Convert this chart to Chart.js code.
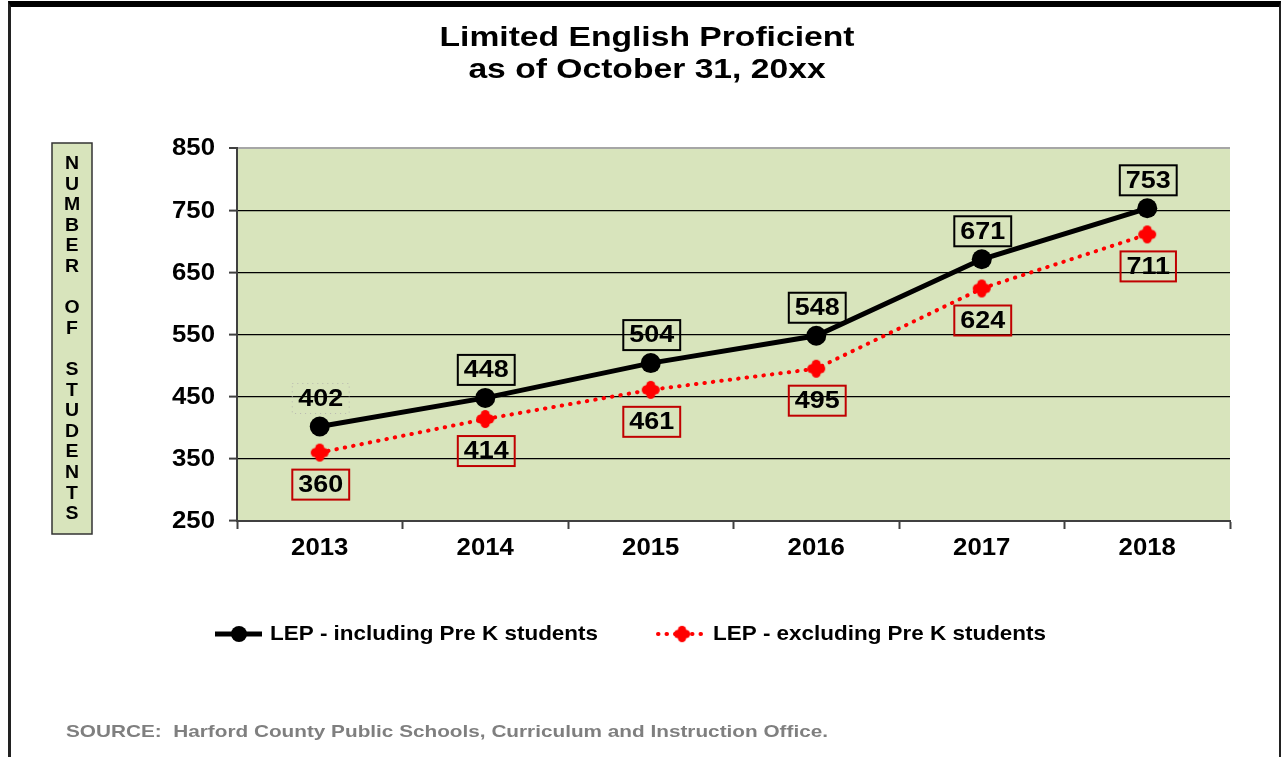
<!DOCTYPE html>
<html>
<head>
<meta charset="utf-8">
<title>Limited English Proficient</title>
<script src="https://cdn.jsdelivr.net/npm/chart.js@4.4.0/dist/chart.umd.min.js"></script>
<style>
  html, body { margin: 0; padding: 0; background: #fff; }
  #wrap { position: relative; width: 1283px; height: 757px; overflow: hidden; }
  #chartCanvas { position: absolute; left: 0; top: 0; }
  #frame {
    position: absolute; left: 8px; top: 1px; width: 1268px; height: 770px;
    border-top: 6px solid #000; border-left: 3px solid #222; border-right: 2px solid #222;
    pointer-events: none;
  }
</style>
</head>
<body>
<div id="wrap">
  <canvas id="chartCanvas" width="1283" height="757"></canvas>
  <div id="frame"></div>
</div>
<script>
var years = ['2013', '2014', '2015', '2016', '2017', '2018'];
var lepIncluding = [402, 448, 504, 548, 671, 753];
var lepExcluding = [360, 414, 461, 495, 624, 711];
var yTicks = [250, 350, 450, 550, 650, 750, 850];

var titleLines = ['Limited English Proficient', 'as of October 31, 20xx'];
var yAxisTitle = 'NUMBER OF STUDENTS';
var sourceText = 'SOURCE:  Harford County Public Schools, Curriculum and Instruction Office.';

var FONT = '"Liberation Sans", Arial, sans-serif';
var PLOT_BG = '#d8e4bc';

// the original text is Arial bold drawn a little wide, so stretch it horizontally
function wideText(ctx, txt, x, y, sx, align) {
  ctx.save();
  ctx.translate(x, y);
  ctx.scale(sx, 1);
  ctx.textAlign = align || 'center';
  ctx.fillText(txt, 0, 0);
  ctx.restore();
}

// red marker looks like a fat rounded cross
function makeRedBlob() {
  var c = document.createElement('canvas');
  c.width = 22; c.height = 22;
  var g = c.getContext('2d');
  g.fillStyle = '#ff0000';
  [[11, 11, 6.5], [6.5, 11, 4.5], [15.5, 11, 4.5], [11, 6.5, 4.5], [11, 15.5, 4.5]].forEach(function (p) {
    g.beginPath();
    g.arc(p[0], p[1], p[2], 0, Math.PI * 2);
    g.fill();
  });
  return c;
}
var redBlob = makeRedBlob();

var decorPlugin = {
  id: 'decor',
  beforeDraw: function (chart) {
    var ctx = chart.ctx;
    var a = chart.chartArea;
    ctx.save();
    ctx.fillStyle = PLOT_BG;
    ctx.fillRect(a.left, a.top, a.right - a.left, a.bottom - a.top);

    ctx.textBaseline = 'middle';

    // title
    ctx.fillStyle = '#000';
    ctx.font = 'bold 28px ' + FONT;
    var sx = 415 / ctx.measureText(titleLines[0]).width;
    wideText(ctx, titleLines[0], 647, 38, sx);
    wideText(ctx, titleLines[1], 647, 70, sx);

    // vertical axis title box
    ctx.fillStyle = PLOT_BG;
    ctx.fillRect(52, 143, 40, 391);
    ctx.strokeStyle = '#333';
    ctx.lineWidth = 1.5;
    ctx.strokeRect(52, 143, 40, 391);
    ctx.fillStyle = '#000';
    ctx.font = 'bold 18px ' + FONT;
    for (var i = 0; i < yAxisTitle.length; i++) {
      wideText(ctx, yAxisTitle[i], 72, 164 + i * 20.6, 1.08);
    }

    // source
    ctx.fillStyle = '#7f7f7f';
    ctx.font = 'bold 17px ' + FONT;
    wideText(ctx, sourceText, 66, 732, 762 / ctx.measureText(sourceText).width, 'left');
    ctx.restore();
  },
  afterDraw: function (chart) {
    var ctx = chart.ctx;
    var ds = chart.data.datasets;
    ctx.save();
    ctx.textBaseline = 'middle';
    ctx.fillStyle = '#000';

    // tick labels, placed through the scales
    var ys = chart.scales.y, xs = chart.scales.x;
    ctx.font = 'bold 23px ' + FONT;
    ys.ticks.forEach(function (t) {
      wideText(ctx, String(t.value), 215, ys.getPixelForValue(t.value) + 1, 1.12, 'right');
    });
    xs.ticks.forEach(function (t, i) {
      wideText(ctx, xs.getLabelForValue(t.value), xs.getPixelForTick(i), 549, 1.12);
    });

    // legend: including
    ctx.font = 'bold 21px ' + FONT;
    ctx.strokeStyle = '#000';
    ctx.lineWidth = 5;
    ctx.beginPath();
    ctx.moveTo(215, 634); ctx.lineTo(262, 634);
    ctx.stroke();
    ctx.beginPath();
    ctx.arc(239, 634, 8, 0, Math.PI * 2);
    ctx.fill();
    var lx = 328 / ctx.measureText(ds[0].label).width;
    wideText(ctx, ds[0].label, 270, 634, lx, 'left');

    // legend: excluding
    ctx.strokeStyle = '#ff0000';
    ctx.lineWidth = 4;
    ctx.lineCap = 'round';
    ctx.setLineDash([0.5, 8]);
    ctx.beginPath();
    ctx.moveTo(658, 634); ctx.lineTo(703, 634);
    ctx.stroke();
    ctx.setLineDash([]);
    ctx.drawImage(redBlob, 682 - 10, 634 - 10, 20, 20);
    wideText(ctx, ds[1].label, 713, 634, lx, 'left');
    ctx.restore();
  }
};

var labelPlugin = {
  id: 'valueBoxes',
  afterDatasetsDraw: function (chart) {
    var ctx = chart.ctx;
    var sx = 1.17;
    ctx.save();
    ctx.font = 'bold 23px ' + FONT;
    ctx.textBaseline = 'middle';
    chart.data.datasets.forEach(function (d, di) {
      var meta = chart.getDatasetMeta(di);
      meta.data.forEach(function (el, i) {
        var txt = String(d.data[i]);
        var w = ctx.measureText(txt).width * sx + 12;
        var h = 30;
        var cx = el.x + 1;
        var cy = di === 0 ? el.y - 28 : el.y + 32;
        ctx.lineWidth = 2;
        if (di === 0 && i === 0) {
          // first label in the original has a faint dotted frame
          ctx.strokeStyle = '#b8b8b0';
          ctx.lineWidth = 1;
          ctx.setLineDash([1, 4]);
        } else {
          ctx.strokeStyle = di === 0 ? '#000' : '#c00000';
          ctx.setLineDash([]);
        }
        ctx.strokeRect(cx - w / 2, cy - h / 2, w, h);
        ctx.setLineDash([]);
        ctx.fillStyle = '#000';
        wideText(ctx, txt, cx, cy + 1, sx);
      });
    });
    ctx.restore();
  }
};

var chart = new Chart(document.getElementById('chartCanvas'), {
  type: 'line',
  data: {
    labels: years,
    datasets: [{
      label: 'LEP - including Pre K students',
      data: lepIncluding,
      borderColor: '#000',
      backgroundColor: '#000',
      borderWidth: 5,
      pointRadius: 10,
      pointBackgroundColor: '#000',
      pointBorderWidth: 0,
      tension: 0
    }, {
      label: 'LEP - excluding Pre K students',
      data: lepExcluding,
      borderColor: '#ff0000',
      backgroundColor: '#ff0000',
      borderWidth: 4,
      borderDash: [0.5, 8],
      borderCapStyle: 'round',
      pointStyle: redBlob,
      pointRadius: 10,
      tension: 0
    }]
  },
  options: {
    responsive: false,
    animation: false,
    events: [],
    layout: { padding: { left: 0, right: 53, top: 148, bottom: 0 } },
    plugins: {
      legend: { display: false },
      title: { display: false },
      tooltip: { enabled: false }
    },
    scales: {
      x: {
        offset: true,
        afterFit: function (scale) { scale.height = 236; },
        grid: {
          drawOnChartArea: false,
          drawTicks: true,
          tickLength: 8,
          tickColor: '#404040',
          tickWidth: 2,
          offset: true
        },
        border: { color: '#404040', width: 2 },
        ticks: { display: false }
      },
      y: {
        min: 250,
        max: 850,
        afterFit: function (scale) { scale.width = 237; },
        afterBuildTicks: function (scale) {
          scale.ticks = yTicks.map(function (v) { return { value: v }; });
        },
        grid: {
          color: function (c) { return c.tick && c.tick.value === 850 ? '#a6a6a6' : '#000'; },
          lineWidth: function (c) { return c.tick && c.tick.value === 850 ? 2 : 1.2; },
          tickColor: '#404040',
          tickLength: 8,
          tickWidth: 2
        },
        border: { color: '#404040', width: 2 },
        ticks: { display: false }
      }
    }
  },
  plugins: [decorPlugin, labelPlugin]
});
</script>
</body>
</html>
